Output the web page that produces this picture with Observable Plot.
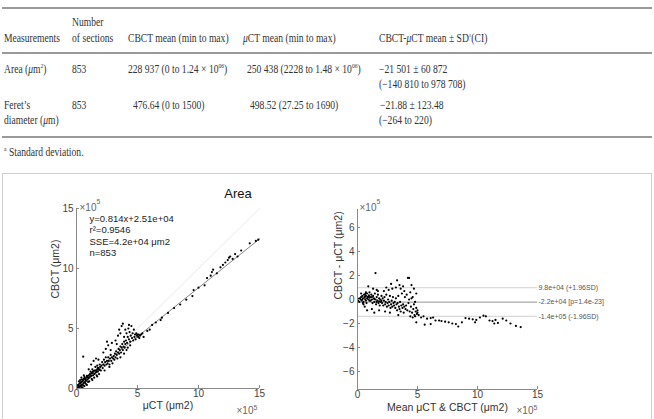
<!DOCTYPE html>
<html><head><meta charset="utf-8">
<script src="https://cdn.jsdelivr.net/npm/d3@7"></script>
<script src="https://cdn.jsdelivr.net/npm/@observablehq/plot@0.6"></script>
<style>
body{margin:0;width:654px;height:419px;overflow:hidden;background:#fff;position:relative;}
.t{position:absolute;font-family:"Liberation Serif","Times New Roman",serif;font-size:12px;line-height:12px;color:#333;white-space:nowrap;transform:scaleX(0.8);transform-origin:0 0;}
.t i{font-style:italic}
.t sup{font-size:7px;vertical-align:5px;line-height:0}
.rule{position:absolute;left:2px;width:650px;height:1.5px;background:#9a9a9a;}
#box{position:absolute;left:2px;top:173px;width:648px;height:260px;border:1px solid #cfcfcf;}
#title{position:absolute;left:0;width:476px;top:186px;text-align:center;font-family:"Liberation Sans",Arial,sans-serif;font-size:13px;color:#111;}
.plot{position:absolute;top:196px;}
</style></head>
<body>
<div class="rule" style="top:7px"></div>
<div class="t" style="left:72px;top:16px">Number</div>
<div class="t" style="left:4px;top:32px">Measurements</div>
<div class="t" style="left:72px;top:32px">of sections</div>
<div class="t" style="left:128px;top:32px">CBCT mean (min to max)</div>
<div class="t" style="left:243px;top:32px"><i>μ</i>CT mean (min to max)</div>
<div class="t" style="left:379px;top:32px">CBCT-<i>μ</i>CT mean ± SD<sup style="color:#5a7fb5">a</sup>(CI)</div>
<div class="rule" style="top:52px"></div>
<div class="t" style="left:4px;top:63px">Area (<i>μ</i>m<sup>2</sup>)</div>
<div class="t" style="left:72px;top:63px">853</div>
<div class="t" style="left:128px;top:63px">228 937 (0 to 1.24 × 10<sup>06</sup>)</div>
<div class="t" style="left:247px;top:63px">250 438 (2228 to 1.48 × 10<sup>06</sup>)</div>
<div class="t" style="left:379px;top:63px">−21 501 ± 60 872</div>
<div class="t" style="left:379px;top:78px">(−140 810 to 978 708)</div>
<div class="t" style="left:4px;top:99px">Feret’s</div>
<div class="t" style="left:4px;top:114px">diameter (<i>μ</i>m)</div>
<div class="t" style="left:72px;top:99px">853</div>
<div class="t" style="left:133px;top:99px">476.64 (0 to 1500)</div>
<div class="t" style="left:250px;top:99px">498.52 (27.25 to 1690)</div>
<div class="t" style="left:380px;top:99px">−21.88 ± 123.48</div>
<div class="t" style="left:379px;top:114px">(−264 to 220)</div>
<div class="rule" style="top:136px"></div>
<div class="t" style="left:4px;top:146px"><sup>a</sup> Standard deviation.</div>
<div id="box"></div>
<div id="title">Area</div>
<div id="p1" class="plot" style="left:16px"></div>
<div id="p2" class="plot" style="left:300px"></div>
<script>
// ---- data (units ×10^5 µm²) ----
const scatterMuCTvsCBCT = [
[0.1,0.1],[0.15,0.3],[0.2,0.05],[0.25,0.4],[0.3,0.2],[0.35,0.5],[0.4,0.3],[0.45,0.1],[0.5,0.6],[0.5,0.35],[0.55,0.7],[0.6,0.45],[0.65,0.2],[0.7,0.8],[0.7,0.55],[0.75,0.4],[0.8,0.9],[0.8,0.65],[0.85,0.3],[0.9,1.0],[0.9,0.75],[0.95,0.55],[1.0,1.1],[1.0,0.85],[0.3,0.7],[0.2,0.6],[0.4,0.9],[0.6,1.1],[0.15,0.02],[0.5,0.05],[0.55,2.65],
[0.1,0.25],[0.2,0.2],[0.3,0.45],[0.4,0.55],[0.45,0.75],[0.6,0.8],[0.65,0.95],[0.75,0.7],[0.85,1.05],[0.95,0.9],[0.35,0.15],[0.55,0.25],
[1.05,0.6],[1.1,1.2],[1.1,0.95],[1.15,1.4],[1.2,1.05],[1.25,0.8],[1.3,1.3],[1.3,1.6],[1.35,1.1],[1.4,1.45],[1.45,0.9],[1.5,1.5],[1.5,1.25],[1.55,1.8],[1.6,1.35],[1.65,1.1],[1.7,1.6],[1.7,1.9],[1.75,1.4],[1.8,1.7],[1.85,1.2],[1.9,2.0],[1.9,1.6],[1.95,1.8],[2.0,1.5],[1.2,2.0],[1.4,2.3],[1.6,2.5],[1.8,2.4],[1.0,1.6],[1.3,0.7],[1.7,1.0],
[1.15,1.15],[1.25,1.3],[1.35,1.4],[1.45,1.2],[1.55,1.5],[1.65,1.45],[1.75,1.7],[1.85,1.55],
[2.05,1.9],[2.1,2.2],[2.15,1.7],[2.2,2.0],[2.25,2.4],[2.3,1.9],[2.35,2.2],[2.4,2.6],[2.45,2.0],[2.5,2.3],[2.55,2.1],[2.6,2.6],[2.65,2.3],[2.7,2.0],[2.75,2.5],[2.8,2.8],[2.85,2.3],[2.9,2.6],[2.95,2.1],[3.0,2.5],[2.2,3.0],[2.4,3.3],[2.6,3.6],[2.8,3.2],[2.3,1.5],[2.7,1.8],[2.5,3.9],[2.9,3.8],
[3.05,2.7],[3.1,2.4],[3.15,2.9],[3.2,2.6],[3.25,3.1],[3.3,2.8],[3.35,2.5],[3.4,3.0],[3.45,3.3],[3.5,2.9],[3.55,3.2],[3.6,3.5],[3.65,3.0],[3.7,3.4],[3.75,3.7],[3.8,3.2],[3.85,3.5],[3.9,3.9],[3.95,3.4],[4.0,3.7],[3.2,4.0],[3.4,4.4],[3.5,4.9],[3.6,4.6],[3.7,5.2],[3.8,5.4],[3.9,4.3],[3.3,3.7],[3.6,2.6],[3.9,2.9],
[4.05,4.0],[4.1,4.6],[4.15,3.8],[4.2,4.3],[4.25,5.0],[4.3,4.1],[4.35,4.7],[4.4,3.9],[4.45,4.4],[4.5,5.2],[4.55,4.2],[4.6,4.6],[4.65,4.0],[4.7,4.9],[4.75,4.3],[4.8,4.5],[4.85,4.1],[4.9,4.6],[4.95,4.4],[5.0,4.5],[5.05,4.3],[5.1,4.5],[5.15,4.2],[5.2,4.4],[5.3,4.5],[5.4,4.6],[5.5,4.3],[4.2,3.4],[4.4,3.6],[4.0,4.9],[4.3,5.3],[4.1,3.2],
[5.8,4.8],[6.0,4.9],[6.2,5.3],[6.5,5.5],[6.9,5.7],[7.0,5.9],[7.5,6.3],[8.0,6.7],[8.5,7.0],[9.0,7.4],[9.5,7.7],[9.6,8.2],[10.0,8.4],[10.5,8.6],[10.7,9.2],[11.0,9.4],[11.1,9.7],[11.2,9.9],[11.5,9.6],[11.8,10.1],[12.0,10.3],[12.2,10.5],[12.4,10.7],[12.5,10.9],[12.6,11.0],[12.8,10.8],[13.0,11.2],[13.2,11.0],[13.5,11.5],[14.2,12.1],[14.7,12.3],[14.9,12.4]
];
const blandAltman = [
[0.05,-0.1],[0.1,0.05],[0.15,-0.2],[0.2,0.1],[0.25,0.0],[0.3,0.2],[0.35,-0.1],[0.4,0.3],[0.45,0.1],[0.5,-0.2],[0.55,0.4],[0.6,0.15],[0.65,0.0],[0.7,0.3],[0.75,-0.3],[0.8,0.5],[0.85,0.2],[0.9,0.0],[0.95,0.35],[1.0,-0.1],[0.6,-0.6],[0.8,-0.9],[0.9,1.1],[0.7,0.6],[0.3,0.5],[0.5,-0.4],[1.0,0.6],
[0.4,0.0],[0.6,0.25],[0.7,-0.1],[0.8,0.1],[0.9,0.25],[1.0,0.15],[0.45,-0.3],[0.65,0.45],
[1.05,0.2],[1.1,-0.1],[1.15,0.4],[1.2,0.0],[1.25,-0.3],[1.3,0.3],[1.35,0.1],[1.4,-0.2],[1.45,0.5],[1.5,0.0],[1.55,-0.4],[1.6,0.2],[1.65,-0.1],[1.7,0.4],[1.75,-0.3],[1.8,0.1],[1.85,-0.5],[1.9,0.0],[1.95,-0.2],[2.0,0.3],[1.5,2.2],[1.3,0.9],[1.6,0.8],[1.2,-0.8],[1.8,-0.9],[1.4,-1.1],[1.7,0.7],
[1.2,0.2],[1.4,0.05],[1.6,-0.2],[1.8,-0.15],[2.0,-0.1],
[2.05,-0.3],[2.1,0.1],[2.15,-0.5],[2.2,-0.1],[2.25,0.2],[2.3,-0.4],[2.35,-0.2],[2.4,0.4],[2.45,-0.6],[2.5,-0.3],[2.55,0.0],[2.6,-0.5],[2.65,-0.2],[2.7,0.3],[2.75,-0.7],[2.8,-0.4],[2.85,-0.1],[2.9,-0.6],[2.95,0.2],[3.0,-0.3],[2.2,0.7],[2.4,1.0],[2.6,0.8],[2.8,1.3],[2.3,-1.0],[2.7,-1.1],[2.9,0.9],
[3.05,-0.5],[3.1,-0.2],[3.15,-0.7],[3.2,0.1],[3.25,-0.4],[3.3,-0.9],[3.35,-0.3],[3.4,0.3],[3.45,-0.6],[3.5,-0.8],[3.55,-0.2],[3.6,-1.0],[3.65,-0.5],[3.7,0.5],[3.75,-0.7],[3.8,-0.4],[3.85,-1.1],[3.9,-0.6],[3.95,0.2],[4.0,-0.8],[3.3,1.6],[3.5,1.2],[3.6,0.9],[3.8,1.1],[3.9,0.7],[3.2,1.0],[3.4,-1.3],
[4.05,-0.5],[4.1,0.4],[4.15,-0.9],[4.2,1.8],[4.25,-0.3],[4.3,1.8],[4.35,-1.0],[4.4,0.6],[4.45,-0.6],[4.5,1.2],[4.55,-1.1],[4.6,0.2],[4.65,-0.8],[4.7,0.9],[4.75,-1.3],[4.8,-0.2],[4.85,-1.0],[4.9,0.5],[4.95,-1.2],[5.0,-0.9],[4.6,-1.5],[4.8,-1.4],[4.4,-1.4],[4.7,-0.4],[4.9,-0.7],[5.0,-1.1],[4.3,0.0],[4.5,0.1],
[5.1,-1.3],[5.3,-1.5],[5.5,-1.4],[5.8,-1.6],[6.1,-1.55],[6.3,-1.5],[6.5,-1.75],[6.8,-1.75],[7.0,-1.8],[7.3,-1.85],[7.6,-1.9],[7.9,-2.0],[8.2,-2.05],[8.4,-2.25],[8.7,-1.9],[9.0,-1.55],[9.3,-1.6],[9.6,-1.65],[9.9,-1.7],[10.2,-1.5],[10.5,-1.35],[10.7,-1.4],[11.0,-1.75],[11.25,-1.8],[11.5,-1.7],[11.7,-1.95],[12.1,-1.6],[12.4,-1.75],[12.75,-2.0],[13.2,-2.2],[13.6,-2.3],[9.8,-1.9],[11.4,-2.0],[5.6,-2.1],[6.1,-2.05],[4.9,-1.9]
];
const fitSlope = 0.814, fitIntercept = 0.251; // y=0.814x+2.51e+04
const fitRange = [0, 15];
const fitText = ["y=0.814x+2.51e+04", "r²=0.9546", "SSE=4.2e+04 μm2", "n=853"];
const baLimits = [
  {value: 0.98, label: "9.8e+04 (+1.96SD)", kind: "sd"},
  {value: -0.22, label: "-2.2e+04 [p=1.4e-23]", kind: "mean"},
  {value: -1.4, label: "-1.4e+05 (-1.96SD)", kind: "sd"}
];
const leftXTicks = [0, 5, 10, 15], leftYTicks = [0, 5, 10, 15];
const rightXTicks = [0, 5, 10, 15], rightYTicks = [-6, -4, -2, 0, 2, 4, 6];

const font = "'Liberation Sans', Arial, sans-serif";
const fitLine = fitRange.map(x => [x, fitSlope * x + fitIntercept]);

// "×10^5" exponent label as two text marks
function exponent(anchor, dx, dy, end) {
  if (end) return [
    Plot.text(["5"], {frameAnchor: anchor, textAnchor: "end", dx: dx, dy: dy - 4, fontSize: 7, fill: "#666"}),
    Plot.text(["×10"], {frameAnchor: anchor, textAnchor: "end", dx: dx - 4, dy: dy, fontSize: 10, fill: "#666"})
  ];
  return [
    Plot.text(["×10"], {frameAnchor: anchor, textAnchor: "start", dx: dx, dy: dy, fontSize: 10, fill: "#666"}),
    Plot.text(["5"], {frameAnchor: anchor, textAnchor: "start", dx: dx + 17, dy: dy - 4, fontSize: 7, fill: "#666"})
  ];
}

const p1 = Plot.plot({
  width: 264, height: 222,
  marginLeft: 60, marginRight: 21, marginTop: 12, marginBottom: 30,
  x: {domain: [0, 15]}, y: {domain: [0, 15]},
  style: {fontFamily: font, fontSize: "10px", color: "#444", background: "transparent", overflow: "visible"},
  marks: [
    Plot.line(fitRange.map(v => [v, v]), {stroke: "#e4e4e4", strokeWidth: 0.8}),
    Plot.line(fitLine, {stroke: "#666", strokeWidth: 0.8}),
    Plot.dot(scatterMuCTvsCBCT, {x: d => d[0], y: d => d[1], r: 1.1, fill: "#000", stroke: "none"}),
    Plot.ruleX([0], {stroke: "#8a8a8a"}),
    Plot.ruleY([0], {stroke: "#8a8a8a"}),
    Plot.ruleY(leftYTicks, {x1: 0, x2: 0.25, stroke: "#8a8a8a"}),
    Plot.ruleX(leftXTicks, {y1: 0, y2: 0.25, stroke: "#8a8a8a"}),
    Plot.axisX({ticks: leftXTicks, tickSize: 0, tickPadding: 1, label: null}),
    Plot.axisY({ticks: leftYTicks, tickSize: 0, tickPadding: 3, label: null}),
    Plot.text([fitText.join("\n")], {frameAnchor: "top-left", textAnchor: "start", lineAnchor: "top", dx: 13, dy: 5, lineHeight: 1.22, fontSize: 9.5, fill: "#222"}),
    ...exponent("top-left", 3, -5, false),
    ...exponent("bottom-right", -2, 25, true),
    Plot.text(["μCT (μm2)"], {frameAnchor: "bottom", dy: 20, fontSize: 10.5, fill: "#333"}),
    Plot.text(["CBCT (μm2)"], {frameAnchor: "left", rotate: -90, dx: -21, fontSize: 10.5, fill: "#333"})
  ]
});
document.getElementById("p1").append(p1);

const p2 = Plot.plot({
  width: 354, height: 222,
  marginLeft: 57, marginRight: 117, marginTop: 13, marginBottom: 29,
  x: {domain: [0, 15]}, y: {domain: [-7.5, 7.5]},
  style: {fontFamily: font, fontSize: "10px", color: "#444", background: "transparent", overflow: "visible"},
  marks: [
    Plot.ruleY(baLimits, {y: "value", x1: 0, x2: 15, stroke: d => d.kind === "mean" ? "#777" : "#c4c4c4", strokeDasharray: d => d.kind === "mean" ? null : "1.5,1.5", strokeWidth: 0.8}),
    Plot.text(baLimits, {y: "value", x: 15, text: "label", textAnchor: "start", dx: 1, fontSize: 7, fill: "#555"}),
    Plot.dot(blandAltman, {x: d => d[0], y: d => d[1], r: 1.1, fill: "#000", stroke: "none"}),
    Plot.ruleX([0], {stroke: "#8a8a8a"}),
    Plot.ruleY([-7.5], {stroke: "#8a8a8a"}),
    Plot.ruleY(rightYTicks, {x1: 0, x2: 0.25, stroke: "#8a8a8a"}),
    Plot.ruleX(rightXTicks, {y1: -7.5, y2: -7.25, stroke: "#8a8a8a"}),
    Plot.axisX({ticks: rightXTicks, tickSize: 0, tickPadding: 1, label: null}),
    Plot.axisY({ticks: rightYTicks, tickSize: 0, tickPadding: 3, label: null}),
    ...exponent("top-left", 2, -6, false),
    ...exponent("bottom-right", 0, 24, true),
    Plot.text(["Mean μCT & CBCT (μm2)"], {frameAnchor: "bottom", dy: 21, fontSize: 10.5, fill: "#333"}),
    Plot.text(["CBCT - μCT (μm2)"], {frameAnchor: "left", rotate: -90, dx: -19, fontSize: 10.5, fill: "#333"})
  ]
});
document.getElementById("p2").append(p2);
</script>
</body></html>
